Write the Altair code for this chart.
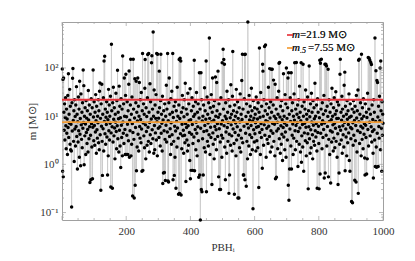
import altair as alt
import pandas as pd

# ---- data (masses in solar masses, PBH index 1..1000) ----
m_0001_0100 = [95, 0.72, 58, 0.55, 62, 12, 5.1, 18, 3.2, 9.4, 24, 6.3, 2.1, 14, 4.4, 8.7, 1.6, 27, 5.8, 76,
               3.6, 11, 7.2, 36, 2.6, 16, 2.0, 6.8, 1.9, 0.13, 19, 4.9, 61, 98, 8.1, 3.0, 13, 1.15, 22, 5.4,
               9.9, 2.4, 17, 6.1, 41, 3.8, 11, 0.8, 7.7, 2.9, 25, 5.0, 14, 1.4, 53, 4.2, 8.9, 0.94, 29, 6.6,
               3.3, 12, 2.2, 19, 5.6, 91, 7.4, 43, 0.98, 10, 3.9, 15, 6.9, 1.6, 21, 4.6, 9.1, 2.7, 13, 5.3,
               1.8, 34, 8.3, 3.4, 17, 6.0, 0.42, 11, 4.0, 0.48, 23, 7.0, 2.3, 15, 0.5, 5.9, 91, 9.6, 3.1, 20]
m_0101_0200 = [6.4, 2.5, 12, 4.7, 28, 8.0, 1.7, 16, 5.2, 3.5, 10, 7.3, 22, 2.8, 13, 2.0, 33, 49, 4.1, 9.0,
               0.29, 18, 6.2, 46, 3.0, 0.59, 11, 5.5, 24, 1.9, 140, 7.8, 175, 4.3, 14, 2.6, 9.5, 6.7, 20, 3.7,
               12, 0.6, 8.4, 1.5, 36, 5.0, 17, 3.2, 10, 7.1, 26, 0.34, 4.5, 310, 13, 6.0, 0.32, 19, 2.9, 40,
               8.6, 3.9, 15, 5.7, 1.3, 11, 7.5, 30, 4.8, 2.1, 21, 6.3, 90, 3.4, 12, 8.8, 1.8, 42, 5.1, 16,
               2.4, 9.3, 0.86, 23, 6.5, 3.6, 14, 1.5, 178, 7.6, 4.4, 18, 2.7, 62, 10, 5.3, 1.6, 27, 74, 1.6]
m_0201_0300 = [9.7, 4.0, 20, 6.8, 1.6, 13, 3.1, 46, 87, 1.4, 8.2, 5.0, 17, 152, 1.5, 11, 2.6, 25, 7.0, 0.22,
               4.6, 152, 14, 3.3, 0.2, 9.2, 60, 0.37, 5.8, 19, 53, 0.74, 12, 2.3, 7.9, 62, 4.2, 16, 1.9, 10,
               50, 6.1, 3.5, 22, 8.5, 2.8, 31, 5.4, 0.72, 13, 200, 0.75, 7.2, 18, 3.9, 11, 2.2, 38, 150, 6.6,
               1.3, 15, 4.8, 9.8, 2.5, 24, 190, 5.9, 3.0, 200, 12, 1.8, 7.4, 47, 4.1, 20, 2.7, 8.7, 128, 180,
               5.2, 14, 3.4, 560, 10, 1.7, 35, 6.4, 2.0, 17, 4.5, 9.0, 28, 3.2, 200, 7.7, 1.5, 192, 12, 5.6]
m_0301_0400 = [9.1, 3.6, 86, 15, 6.0, 2.4, 21, 192, 4.4, 11, 7.1, 1.9, 26, 0.4, 8.3, 0.66, 13, 5.0, 0.68, 18,
               3.3, 0.46, 10, 6.5, 44, 2.9, 14, 4.7, 200, 0.45, 8.0, 0.43, 19, 62, 3.8, 11, 5.5, 1.6, 23, 7.3,
               2.6, 33, 4.1, 12, 200, 0.48, 9.4, 3.0, 16, 0.59, 6.2, 1.4, 20, 4.9, 0.32, 13, 7.8, 2.3, 40, 5.7,
               10, 3.5, 0.24, 17, 150, 0.25, 8.9, 160, 4.3, 140, 0.23, 12, 2.1, 6.8, 27, 3.9, 15, 5.1, 1.7, 9.7,
               22, 4.0, 2.8, 48, 7.0, 0.44, 14, 5.8, 3.2, 11, 1.9, 30, 6.3, 2.5, 18, 8.1, 4.6, 1.2, 37, 0.5]
m_0401_0500 = [8.4, 0.75, 13, 4.2, 24, 6.7, 0.75, 2.7, 16, 9.9, 3.7, 145, 0.74, 11, 5.3, 20, 2.0, 7.5, 31, 4.4,
               1.5, 12, 6.0, 18, 3.1, 0.54, 9.2, 80, 0.6, 14, 0.07, 5.6, 80, 0.3, 22, 0.27, 7.9, 3.4, 10, 0.6,
               17, 4.8, 2.2, 39, 6.4, 13, 1.8, 8.6, 140, 0.27, 5.0, 25, 3.0, 11, 7.2, 2.4, 19, 4.1, 420, 9.0,
               1.6, 15, 5.9, 3.6, 28, 7.7, 0.38, 12, 62, 4.5, 2.6, 16, 8.2, 1.3, 21, 6.1, 3.3, 65, 10, 5.2,
               2.0, 50, 13, 7.0, 3.8, 86, 9.5, 0.55, 18, 5.5, 0.3, 11, 2.9, 0.3, 24, 6.9, 4.0, 1.4, 128, 8.0]
m_0501_0600 = [3.5, 245, 14, 150, 6.3, 120, 2.3, 10, 0.48, 19, 4.7, 8.8, 1.7, 33, 5.8, 12, 3.0, 7.4, 22, 0.25,
               4.2, 0.6, 16, 9.3, 2.5, 45, 6.6, 11, 3.9, 1.9, 26, 220, 5.4, 13, 8.1, 2.7, 0.24, 17, 4.6, 10,
               7.2, 1.5, 36, 3.2, 12, 6.0, 20, 0.2, 9.0, 4.0, 0.2, 15, 2.2, 7.6, 29, 5.1, 1.8, 11, 3.5, 55,
               8.5, 192, 2.8, 14, 0.6, 0.6, 6.2, 23, 190, 0.48, 193, 4.4, 9.8, 0.35, 18, 3.0, 7.0, 1.3, 900, 12,
               5.7, 2.4, 27, 8.3, 4.1, 16, 1.6, 10, 6.4, 38, 3.6, 13, 2.0, 7.9, 0.12, 21, 5.2, 9.1, 2.9, 15]
m_0601_0700 = [4.3, 11, 7.3, 1.9, 25, 5.9, 3.1, 14, 8.7, 2.2, 19, 6.1, 0.33, 12, 260, 4.6, 9.5, 1.6, 31, 7.0,
               3.6, 16, 5.3, 0.83, 120, 86, 10, 2.5, 22, 6.6, 280, 4.0, 13, 300, 8.0, 1.4, 18, 5.6, 3.3, 11,
               7.7, 2.7, 40, 6.2, 15, 3.8, 97, 9.2, 1.8, 20, 5.0, 94, 12, 2.3, 94, 7.1, 4.4, 17, 56, 3.0,
               10, 6.8, 1.5, 46, 0.5, 8.9, 14, 0.54, 4.9, 24, 7.5, 2.1, 11, 5.5, 33, 125, 3.4, 130, 9.6, 1.7,
               16, 6.3, 2.6, 21, 4.2, 8.4, 1.2, 13, 5.8, 76, 3.7, 10, 7.2, 2.0, 28, 4.7, 18, 1.4, 100, 6.5]
m_0701_0800 = [9.0, 3.2, 15, 62, 0.37, 80, 0.18, 11, 0.8, 5.4, 24, 7.8, 2.4, 80, 0.8, 13, 4.0, 19, 6.9, 1.6,
               10, 3.5, 29, 8.2, 128, 5.0, 2.0, 14, 6.4, 130, 3.0, 11, 7.4, 17, 0.9, 4.8, 22, 9.4, 2.6, 42,
               5.7, 12, 1.8, 8.0, 128, 1.1, 3.9, 16, 6.7, 2.3, 120, 10, 0.72, 20, 4.5, 7.1, 14, 3.1, 35, 5.9,
               1.5, 11, 8.6, 2.8, 25, 4.3, 0.31, 13, 6.0, 110, 3.4, 9.7, 1.7, 18, 5.2, 2.2, 30, 7.6, 12, 4.1,
               1.3, 21, 6.5, 3.0, 15, 8.8, 2.5, 48, 5.0, 10, 3.7, 7.0, 17, 1.9, 0.32, 23, 4.6, 12, 6.2, 2.7]
m_0801_0900 = [0.31, 9.3, 145, 0.63, 125, 4.4, 14, 152, 6.8, 2.1, 19, 8.0, 3.6, 11, 5.3, 27, 0.52, 7.2, 120, 0.66,
               13, 120, 4.0, 110, 2.4, 16, 6.1, 9.9, 94, 0.55, 3.3, 22, 7.8, 1.6, 12, 5.0, 0.41, 18, 8.4, 2.9,
               38, 4.7, 10, 6.6, 1.9, 15, 3.5, 24, 7.1, 2.2, 11, 5.6, 32, 3.0, 13, 8.9, 1.4, 20, 4.3, 0.38,
               9.0, 17, 0.66, 6.0, 2.6, 74, 152, 5.1, 12, 3.2, 8.2, 26, 1.7, 14, 6.3, 4.1, 10, 2.3, 44, 7.4,
               82, 0.74, 16, 5.4, 3.7, 11, 1.5, 21, 8.6, 2.8, 13, 6.7, 4.5, 29, 1.2, 9.5, 0.72, 18, 5.8, 3.4]
m_0901_1000 = [10, 0.17, 5.5, 14, 0.16, 7.3, 2.5, 21, 4.0, 12, 8.1, 0.47, 16, 3.1, 6.4, 0.43, 27, 9.2, 1.8, 13,
               5.0, 35, 0.25, 145, 7.7, 152, 2.7, 11, 4.6, 19, 6.2, 1.5, 192, 8.8, 3.3, 15, 5.7, 2.1, 23, 10,
               4.2, 7.0, 1.35, 0.6, 18, 6.5, 3.6, 12, 0.63, 9.4, 1.3, 30, 5.3, 165, 2.4, 14, 160, 7.5, 145, 3.9,
               11, 130, 6.0, 118, 2.9, 17, 4.8, 8.5, 1.7, 0.52, 22, 5.2, 12, 3.2, 420, 0.9, 7.8, 88, 2.3, 0.87,
               55, 4.4, 50, 9.6, 0.9, 16, 6.1, 3.5, 26, 8.0, 100, 2.0, 140, 13, 5.6, 0.72, 20, 4.0, 11, 7.1]

mass = (m_0001_0100 + m_0101_0200 + m_0201_0300 + m_0301_0400 + m_0401_0500 +
        m_0501_0600 + m_0601_0700 + m_0701_0800 + m_0801_0900 + m_0901_1000)
pbh_index = list(range(1, len(mass) + 1))

mean_mass = 21.9
median_mass = 7.55

x_major = [0, 200, 400, 600, 800, 1000]
x_minor = [50, 100, 150, 250, 300, 350, 450, 500, 550, 650, 700, 750, 850, 900, 950]
y_major = [0.1, 1, 10, 100]
y_minor = [0.08, 0.09, 0.2, 0.3, 0.4, 0.5, 0.6, 0.7, 0.8, 0.9, 2, 3, 4, 5, 6, 7, 8, 9,
           20, 30, 40, 50, 60, 70, 80, 90, 200, 300, 400, 500, 600, 700, 800]

# ---- chart ----
W, H = 321, 198
FONT = "Liberation Serif"
TXT = "#333333"
FRAME = "#a0a0a0"

df = pd.DataFrame({"i": pbh_index, "m": mass})
xs = alt.Scale(domain=[0, 1000], nice=False, zero=False)
ys = alt.Scale(type="log", domain=[0.07, 900], nice=False)

x_axis = alt.Axis(values=[200, 400, 600, 800, 1000], format="d", title="PBHᵢ", ticks=False, domain=False,
                  grid=False, labelPadding=5, titlePadding=5, labelFlush=False)
y_axis = alt.Axis(values=y_major, title="m [M⊙]", ticks=False, domain=False, grid=False,
                  labelPadding=4, labelFlush=False,
                  titleX=-30, titleY=H / 2, titleBaseline="middle", titleAlign="center",
                  labelExpr="datum.value < 0.5 ? '10⁻¹' : datum.value < 5 ? '10⁰' : datum.value < 50 ? '10¹' : '10²'")

line = alt.Chart(df).mark_line(color="#c4c4c4", strokeWidth=0.7).encode(
    x=alt.X("i:Q", scale=xs, axis=x_axis),
    y=alt.Y("m:Q", scale=ys, axis=y_axis),
)
pts = alt.Chart(df).mark_circle(color="black", size=12, opacity=1).encode(
    x=alt.X("i:Q", scale=xs),
    y=alt.Y("m:Q", scale=ys),
)

stats = pd.DataFrame({"m": [mean_mass, median_mass], "k": ["mean", "median"]})
hlines = alt.Chart(stats).mark_rule(strokeWidth=1.8).encode(
    y=alt.Y("m:Q", scale=ys),
    color=alt.Color("k:N", scale=alt.Scale(domain=["mean", "median"], range=["#e8343c", "#f39c34"]),
                    legend=None),
)

# frame ticks (inward)
xmaj = pd.DataFrame({"t": x_major})
xmin = pd.DataFrame({"t": x_minor})
ymaj = pd.DataFrame({"t": y_major})
ymin = pd.DataFrame({"t": y_minor})

def xticks(d, L):
    b = alt.Chart(d).mark_rule(color=FRAME, strokeWidth=0.7).encode(
        x=alt.X("t:Q", scale=xs), y=alt.value(H), y2=alt.value(H - L))
    t = alt.Chart(d).mark_rule(color=FRAME, strokeWidth=0.7).encode(
        x=alt.X("t:Q", scale=xs), y=alt.value(0), y2=alt.value(L))
    return b + t

def yticks(d, L):
    l = alt.Chart(d).mark_rule(color=FRAME, strokeWidth=0.7).encode(
        y=alt.Y("t:Q", scale=ys), x=alt.value(0), x2=alt.value(L))
    r = alt.Chart(d).mark_rule(color=FRAME, strokeWidth=0.7).encode(
        y=alt.Y("t:Q", scale=ys), x=alt.value(W), x2=alt.value(W - L))
    return l + r

ticks = xticks(xmaj, 4) + xticks(xmin, 2) + yticks(ymaj, 4) + yticks(ymin, 2)

# legend
lx = 225
leg = (
    alt.Chart(stats).mark_rule(color="#e8343c", strokeWidth=1.2).encode(
        x=alt.value(lx), x2=alt.value(lx + 6), y=alt.value(13))
    + alt.Chart(stats).mark_rule(color="#f39c34", strokeWidth=1.2).encode(
        x=alt.value(lx), x2=alt.value(lx + 6), y=alt.value(26))
    + alt.Chart(stats).mark_text(text="m", font=FONT, fontSize=11, fontStyle="italic", align="left",
                                 baseline="middle", color="#222").encode(x=alt.value(lx + 5), y=alt.value(13))
    + alt.Chart(stats).mark_text(text="=21.9 M⊙", font=FONT, fontSize=11, align="left",
                                 baseline="middle", color="#222").encode(x=alt.value(lx + 13), y=alt.value(13))
    + alt.Chart(stats).mark_text(text="m", font=FONT, fontSize=11, fontStyle="italic", align="left",
                                 baseline="middle", color="#222").encode(x=alt.value(lx + 5), y=alt.value(26))
    + alt.Chart(stats).mark_text(text=".5", font=FONT, fontSize=8, fontStyle="italic", align="left",
                                 baseline="middle", color="#222").encode(x=alt.value(lx + 13), y=alt.value(29))
    + alt.Chart(stats).mark_text(text="=7.55 M⊙", font=FONT, fontSize=11, align="left",
                                 baseline="middle", color="#222").encode(x=alt.value(lx + 21), y=alt.value(26))
)

chart = alt.layer(line, pts, hlines, ticks, leg).properties(
    width=W, height=H,
    padding={"left": 18, "top": 12, "right": 5, "bottom": 5},
).configure_view(stroke=FRAME, strokeWidth=1).configure_axis(
    labelFont=FONT, labelFontSize=11, labelColor=TXT, titleFont=FONT, titleFontSize=11,
    titleColor=TXT, titleFontWeight="normal",
)

chart.save("out.html", embed_options={"renderer": "svg", "actions": False})
